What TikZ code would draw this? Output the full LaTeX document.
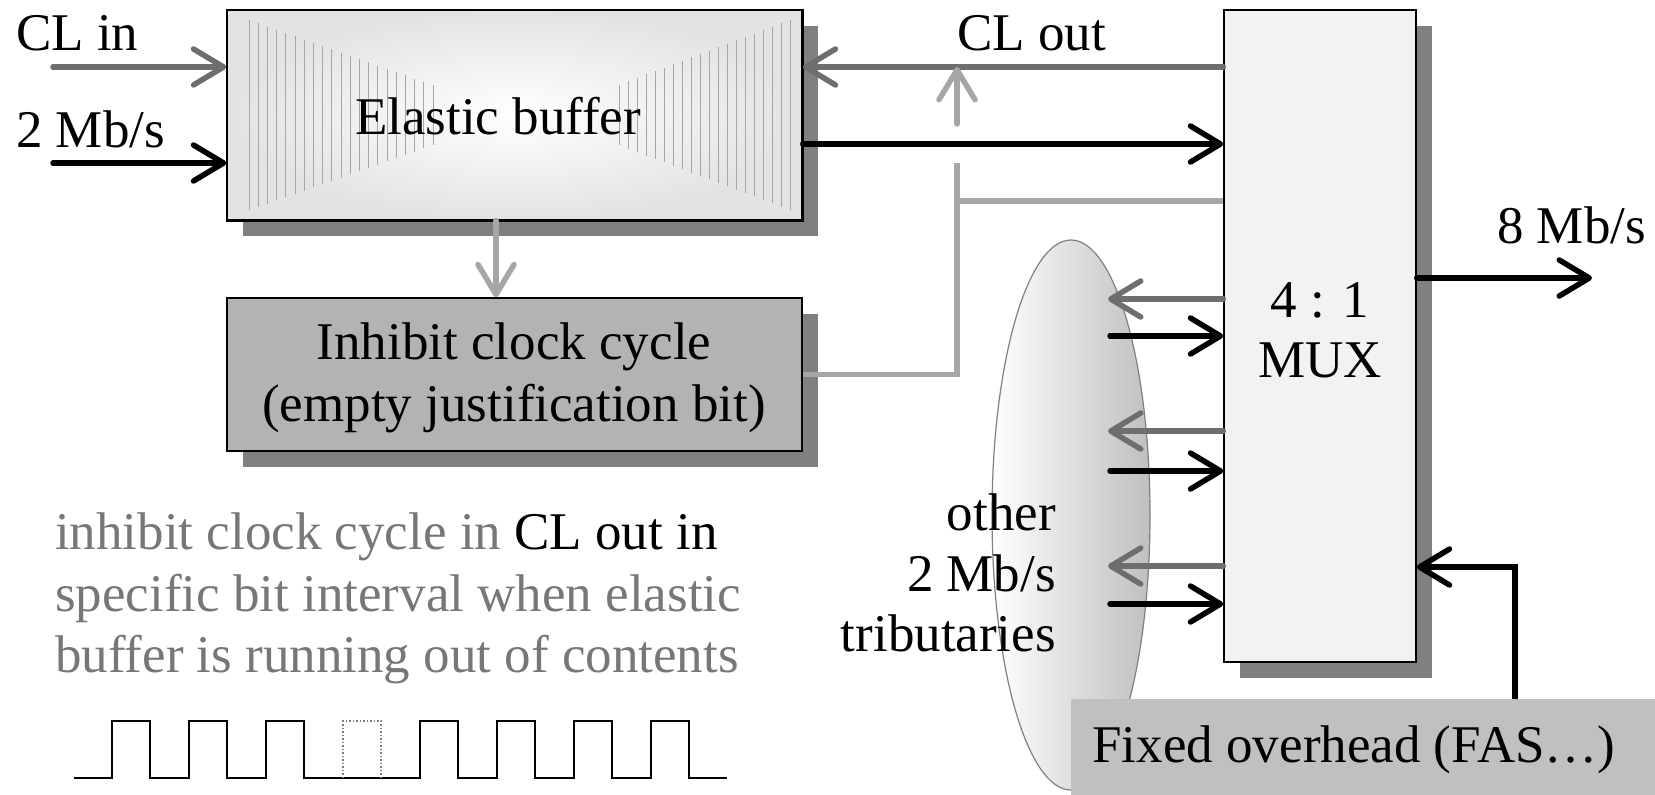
\documentclass[tikz,border=0pt]{standalone}
\usepackage{fontspec}
\setmainfont{Liberation Serif}
\usetikzlibrary{arrows.meta,shapes.geometric,shadows}
\definecolor{shadowc}{HTML}{808080}
\definecolor{dgray}{HTML}{6E6E6E}
\definecolor{lgray}{HTML}{A6A6A6}
\definecolor{txtgray}{HTML}{777777}
\definecolor{inhfill}{HTML}{B3B3B3}
\definecolor{muxfill}{HTML}{F2F2F2}
\definecolor{fasfill}{HTML}{C0C0C0}
\newcommand\bigfont{\fontsize{53}{62}\selectfont}
\begin{document}
\begin{tikzpicture}[x=1pt,y=-1pt,
  lbl/.style={font=\bigfont, inner sep=0pt, anchor=base},
  conn/.style={line width=5.5pt, line cap=round, -{Straight Barb[length=30pt,width=36pt,line cap=round,line join=round]}},
  wire/.style={line width=5.5pt},
  box/.style={draw=black, line width=1.5pt, inner sep=0pt,
     drop shadow={shadow xshift=16pt, shadow yshift=-16pt, fill=shadowc, opacity=1}},
  hatch/.style={gray!70, line width=0.7pt},
  wave/.style={line width=2pt, line join=miter}]
\useasboundingbox (0,0) rectangle (1655,795);

% ---------- ellipse of other tributaries ----------
\node[ellipse, draw=gray, line width=1.2pt, left color=white, right color=gray!50,
      minimum width=158pt, minimum height=550pt, inner sep=0pt] (ell) at (1071,515) {};

% ---------- elastic buffer ----------
\node[box, inner color=white, outer color=gray!22, minimum width=575pt, minimum height=210pt] (eb) at (514.5,115) {};
\foreach \i in {0,...,20}{
  \pgfmathsetmacro\xx{249+\i*9.2}
  \pgfmathsetmacro\hh{95-\i*3.25}
  \draw[hatch] ({\xx},{115-\hh}) -- ({\xx},{115+\hh});
}
\foreach \i in {0,...,19}{
  \pgfmathsetmacro\xx{790-\i*9}
  \pgfmathsetmacro\hh{95-\i*3.4}
  \draw[hatch] ({\xx},{115-\hh}) -- ({\xx},{115+\hh});
}
\draw[line width=1.5pt] (eb.south west) rectangle (eb.north east);
\node[lbl] (ebt) at (498,134) {Elastic buffer};

% ---------- inhibit box ----------
\node[box, fill=inhfill, minimum width=575pt, minimum height=153pt] (inh) at (514.5,374.5) {};
\node[lbl] (inh1) at (514,359) {Inhibit clock cycle};
\node[lbl] (inh2) at (514,421) {(empty justification bit)};

% ---------- MUX ----------
\node[box, fill=muxfill, minimum width=192pt, minimum height=652pt] (mux) at (1320,336) {};
\node[lbl] (mux1) at (1320,317) {4 : 1};
\node[lbl] (mux2) at (1320,377) {MUX};

% ---------- fixed overhead ----------
\node[fill=fasfill, minimum width=584pt, minimum height=96pt, inner sep=0pt] (fas) at (1363,747) {};
\node[lbl] (fast) at (1354,762) {Fixed overhead (FAS\ldots)};

% ---------- coordinates ----------
\coordinate (clin) at (53,67);
\coordinate (din) at (53,163);
\coordinate (xv) at (496,0);
\coordinate (dy) at (0,144);
\coordinate (jx) at (957,0);
\coordinate (gapb) at (0,163);
\coordinate (gapt) at (0,124);
\coordinate (br) at (0,201);
\coordinate (out) at (1592,278);
\coordinate (fx) at (1515,0);
\coordinate (fy) at (0,567);

% ---------- connectors ----------
\draw[conn, dgray] (clin) -- (clin -| eb.west);
\draw[conn, black] (din) -- (din -| eb.west);
\draw[conn, lgray] (xv |- eb.south) -- (xv |- inh.north);
\draw[conn, dgray] (mux.west |- clin) -- (eb.east |- clin);
\draw[conn, black] (eb.east |- dy) -- (mux.west |- dy);
\draw[wire, lgray] (inh.east) -- (jx |- inh.east) -- (jx |- gapb);
\draw[conn, lgray] (jx |- gapt) -- (jx |- clin);
\draw[wire, lgray] (jx |- br) -- (mux.west |- br);
\draw[conn, black] (mux.east |- out) -- (out);
\foreach \y [count=\i] in {299,431,566}{
  \coordinate (g\i) at (1108,\y);
  \draw[conn, dgray] (mux.west |- g\i) -- (g\i);
}
\foreach \y [count=\i] in {336,471,604}{
  \coordinate (b\i) at (1110,\y);
  \draw[conn, black] (b\i) -- (mux.west |- b\i);
}
\draw[conn, black, line cap=butt] (fas.north -| fx) -- (fx |- fy) -- (mux.east |- fy);

% ---------- labels ----------
\node[lbl, anchor=base west] (clint) at (16,50) {CL in};
\node[lbl, anchor=base west] (dint) at (16,147) {2 Mb/s};
\node[lbl, anchor=base west] (cloutt) at (957,50) {CL out};
\node[lbl, anchor=base west] (outt) at (1497,243) {8 Mb/s};
\node[lbl, anchor=base east] (oth1) at (1056,530) {other};
\node[lbl, anchor=base east] (oth2) at (1056,591) {2 Mb/s};
\node[lbl, anchor=base east] (oth3) at (1056,651) {tributaries};
\node[lbl, anchor=base west, text=txtgray] (note1) at (55,549) {inhibit clock cycle in \textcolor{black}{CL out in}};
\node[lbl, anchor=base west, text=txtgray] (note2) at (55,611) {specific bit interval when elastic};
\node[lbl, anchor=base west, text=txtgray] (note3) at (55,672) {buffer is running out of contents};

% ---------- waveform ----------
\draw[wave] (74,778)
  \foreach \r in {112,189,266}{ -- (\r,778) -- (\r,721) -- ({\r+38},721) -- ({\r+38},778) }
  -- (420,778)
  \foreach \r in {420,497,574,651}{ -- (\r,778) -- (\r,721) -- ({\r+38},721) -- ({\r+38},778) }
  -- (727,778);
\draw[gray, dotted, line width=1.5pt] (343,778) -- (343,721) -- (381,721) -- (381,778);
\end{tikzpicture}
\end{document}
